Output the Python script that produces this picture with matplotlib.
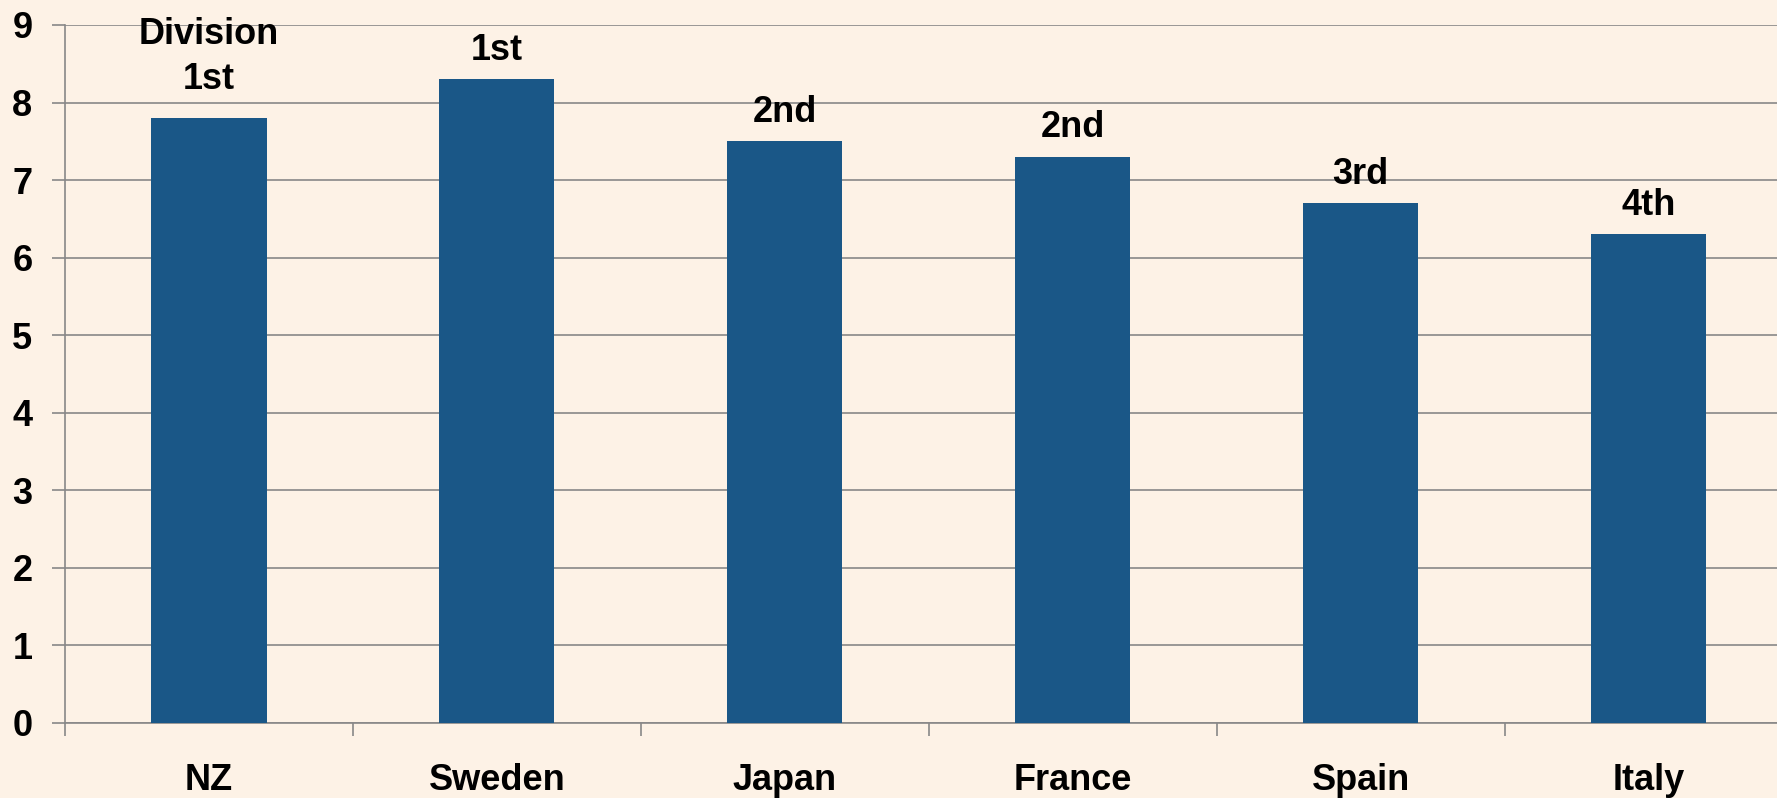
import numpy as np
import matplotlib.pyplot as plt

countries = ['NZ', 'Sweden', 'Japan', 'France', 'Spain', 'Italy']
scores = [7.8, 8.3, 7.5, 7.3, 6.7, 6.3]
divisions = ['Division\n1st', '1st', '2nd', '2nd', '3rd', '4th']

bg = '#FDF2E6'
bar_col = '#1A5787'
grey = '#888888'

plt.rcParams['font.family'] = ['Liberation Sans', 'DejaVu Sans']
plt.rcParams['font.weight'] = 'bold'

fig = plt.figure(figsize=(17.77, 7.98), dpi=100, facecolor=bg)
ax = fig.add_axes([0.0366, 0.094, 0.9721, 0.8747], facecolor=bg)

x = np.arange(len(countries)) + 0.5
ax.bar(x, scores, width=0.40, color=bar_col, zorder=3)

# labels drawn line by line, bottom line first
for xi, v, lab in zip(x, scores, divisions):
    lines = lab.split('\n')[::-1]
    base = 14 + 7 * (len(lines) - 1)
    for i, ln in enumerate(lines):
        ax.annotate(ln, (xi, v), xytext=(0, base + i * 32.5),
                    textcoords='offset points', ha='center', va='baseline',
                    fontsize=26, fontweight='bold', zorder=4)

ax.set_xlim(0, 6)
ax.set_ylim(0, 9)
ax.set_yticks(range(0, 10))
ax.grid(axis='y', color=grey, linewidth=1.2, zorder=0)

ax.set_xticks(x)
ax.set_xticklabels(countries)
ax.set_xticks(np.arange(0, 7), minor=True)
ax.tick_params(axis='x', which='major', length=0, pad=29, labelsize=26)
ax.tick_params(axis='x', which='minor', length=9, width=1.2, color=grey)
ax.tick_params(axis='y', length=9.5, width=1.2, color=grey, pad=14, labelsize=26)

for s in ['top', 'right']:
    ax.spines[s].set_visible(False)
for s in ['left', 'bottom']:
    ax.spines[s].set_color(grey)
    ax.spines[s].set_linewidth(1.2)

fig.savefig('out.png', dpi=100, facecolor=bg)
